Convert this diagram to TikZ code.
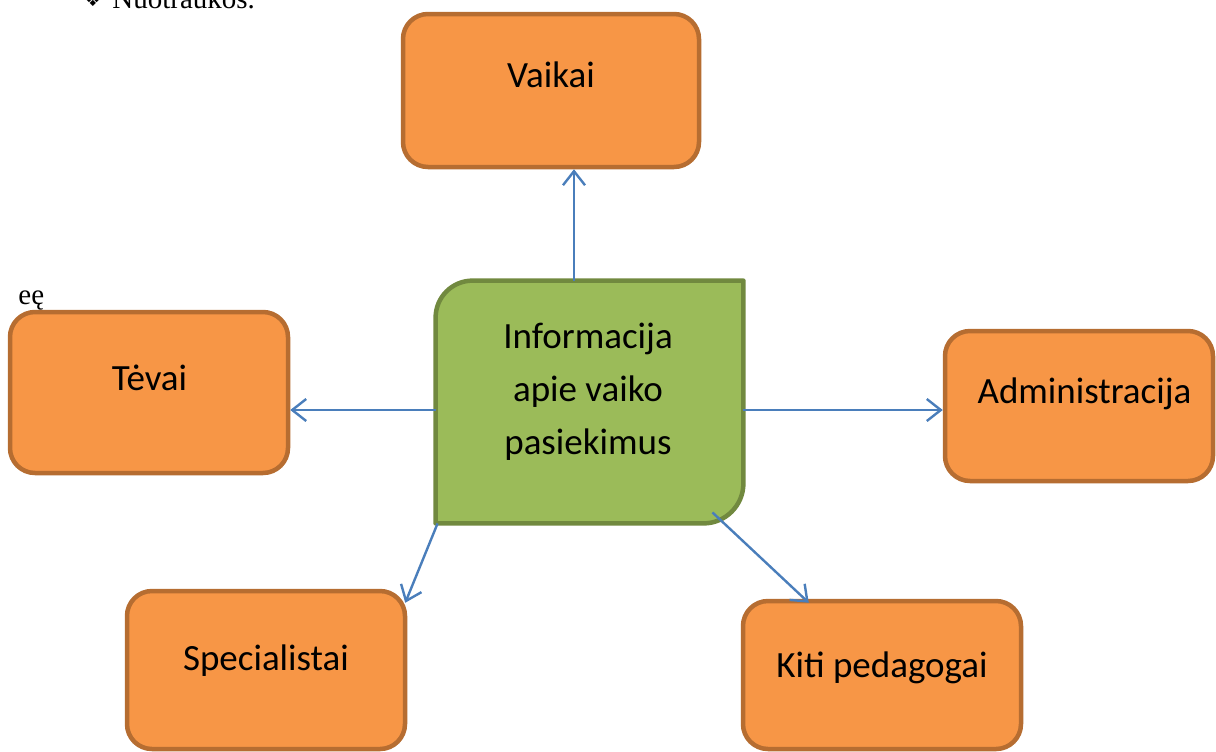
\documentclass[tikz,border=0pt]{standalone}
\usepackage{fontspec}
\setmainfont{Carlito}
\newfontfamily\docserif{Liberation Serif}
\newfontfamily\docsymbol{DejaVu Sans}
\usetikzlibrary{arrows.meta}

\definecolor{orangefill}{HTML}{F79646}
\definecolor{orangeline}{HTML}{B66D31}
\definecolor{greenfill}{HTML}{9BBB59}
\definecolor{greenline}{HTML}{71893F}
\definecolor{arrowblue}{HTML}{4A7EBB}

\begin{document}
\begin{tikzpicture}[x=0.5pt,y=-0.5pt,>={Straight Barb[length=7pt,width=11pt]},
		orange box/.style={draw=orangeline,fill=orangefill,line width=2.25pt,rounded corners=12.5pt},
		info box/.style={draw=greenline,fill=greenfill,line width=2.25pt,line join=round},
		box text/.style={font=\fontsize{18.5}{26.5}\selectfont,inner sep=0pt},
		link/.style={->,draw=arrowblue,line width=1.2pt}]

	\useasboundingbox (0,0) rectangle (1216,751);

	% text of the page around the figure
	\node [anchor=base west,inner sep=0pt,font=\fontsize{9.5}{9.5}\docsymbol] (bullet) at (84,6) {❖};
	\node [anchor=base west,inner sep=0pt,font=\fontsize{14.5}{17}\docserif] (photos) at (112,8) {Nuotraukos.};
	\node [anchor=base west,inner sep=0pt,font=\fontsize{14.5}{17}\docserif] (stray) at (18,304) {eę};

	% boxes
	\node [orange box,minimum width=148pt,minimum height=76.5pt] (vaikai) at (551,90.5) {};
	\node [orange box,minimum width=139pt,minimum height=80.5pt] (tevai) at (149,392.5) {};
	\node [orange box,minimum width=134pt,minimum height=75pt] (admin) at (1079,406) {};
	\node [orange box,minimum width=139pt,minimum height=79pt] (spec) at (266,670) {};
	\node [orange box,minimum width=139pt,minimum height=74pt] (kiti) at (882,675) {};

	\node [minimum width=153.5pt,minimum height=121pt,inner sep=0pt] (info) at (589.5,402) {};
	\draw [info box] (info.south west) -- ([yshift=-18.5pt]info.north west)
		arc [start angle=180,end angle=90,radius=18.5pt] -- (info.north east)
		-- ([yshift=20pt]info.south east) arc [start angle=0,end angle=-90,radius=20pt] -- cycle;

	% texts
	\node [box text,anchor=base] (vaikai-t) at (551,87) {Vaikai};
	\node [box text,anchor=base] (tevai-t) at (149.5,390) {Tėvai};
	\node [box text,anchor=base] (admin-t) at (1084.5,403) {Administracija};
	\node [box text,anchor=base] (spec-t) at (266,670) {Specialistai};
	\node [box text,anchor=base] (kiti-t) at (882,677) {Kiti pedagogai};
	\node [box text,align=center] (info-t) at (588,392) {Informacija\\apie vaiko\\pasiekimus};

	% arrows
	\draw [link] ([xshift=-7.75pt]info.north) -- ([xshift=11.5pt]vaikai.south);
	\draw [link] ([yshift=-4pt]info.west) -- ([yshift=-4pt]info.west -| tevai.east);
	\draw [link] ([yshift=-4pt]info.east) -- ([yshift=-4pt]info.east -| admin.west);
	\draw [link] ([xshift=1pt]info.south west) -- ([xshift=-1pt,yshift=-7pt]spec.north east);
	\draw [link] ([xshift=-15.5pt,yshift=5.5pt]info.south east) -- ([xshift=34pt,yshift=-2pt]kiti.north west);
\end{tikzpicture}
\end{document}
